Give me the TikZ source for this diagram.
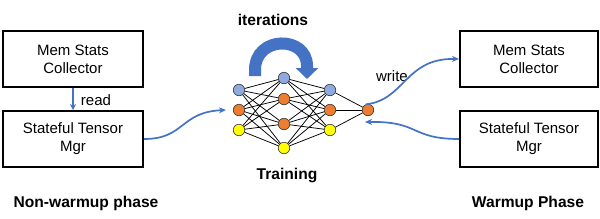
\documentclass[tikz,border=0pt]{standalone}
\usepackage{fontspec}
\setmainfont{Liberation Sans}
\usetikzlibrary{arrows.meta}
\definecolor{cblue}{HTML}{4472C4}
\definecolor{nblue}{HTML}{8FAADC}
\definecolor{norange}{HTML}{ED7D31}
\definecolor{nyellow}{HTML}{FFFF00}
\begin{document}
\begin{tikzpicture}[x=1pt,y=-1pt,
  box/.style={draw, line width=2pt, minimum width=140pt, minimum height=56pt, align=center, inner sep=0pt, font=\fontsize{15}{18}\selectfont},
  lbl/.style={font=\fontsize{15}{18}\selectfont, inner sep=0pt},
  ttl/.style={font=\fontsize{15.6}{18}\selectfont\bfseries, inner sep=0pt},
  neuron/.style={circle, draw=black!80, line width=0.6pt, minimum size=11.5pt, inner sep=0pt},
  conn/.style={draw=cblue, line width=1.7pt, -{Stealth[length=7pt,width=6pt]}},
  nedge/.style={black, line width=0.75pt}]
\useasboundingbox (0,0) rectangle (600,218);

% boxes
\node[box] (m1) at (73,59) {Mem Stats\\Collector};
\node[box] (s1) at (73,139) {Stateful Tensor\\Mgr};
\node[box, minimum width=138pt] (m2) at (529,59) {Mem Stats\\Collector};
\node[box, minimum width=138pt] (s2) at (529,139) {Stateful Tensor\\Mgr};

% labels
\node[ttl] (t1) at (86,203) {Non-warmup phase};
\node[ttl] (t2) at (528,203) {Warmup Phase};
\node[ttl] (t3) at (273,20) {iterations};
\node[ttl] (t4) at (287,175) {Training};
\node[lbl] (rd) at (96,100) {read};
\node[lbl] (wr) at (392,76) {write};

% network
\node[neuron, fill=nblue]   (a1) at (239,90) {};
\node[neuron, fill=norange] (a2) at (239,110) {};
\node[neuron, fill=nyellow] (a3) at (239,130) {};
\node[neuron, fill=nblue]   (b1) at (284,78) {};
\node[neuron, fill=norange] (b2) at (284,99) {};
\node[neuron, fill=norange] (b3) at (284,124) {};
\node[neuron, fill=nyellow] (b4) at (284,148) {};
\node[neuron, fill=nblue]   (c1) at (330,90) {};
\node[neuron, fill=norange] (c2) at (330,110) {};
\node[neuron, fill=nyellow] (c3) at (330,130) {};
\node[neuron, fill=norange] (o)  at (368,110) {};

\foreach \i in {a1,a2,a3}{\foreach \j in {b1,b2,b3,b4}{\draw[nedge] (\i) -- (\j);}}
\foreach \i in {b1,b2,b3,b4}{\foreach \j in {c1,c2,c3}{\draw[nedge] (\i) -- (\j);}}
\foreach \i in {c1,c2,c3}{\draw[nedge] (\i) -- (o);}

% iterations arrow
\draw[draw=cblue, line width=12pt, -{Triangle[width=22pt,length=11pt]}]
  (255,76) -- (255,70) .. controls (255,35.3) and (307,35.3) .. (307,66) -- (307,79);

% connectors
\draw[draw=cblue, line width=1.7pt, -{Stealth[length=6pt,width=6pt]}] (m1) -- (s1);
\draw[conn] (s1.east) .. controls (185,139) and (180,112) .. ([xshift=-7pt]a2.west);
\draw[conn] (o.110) .. controls (405,100) and (405,58) .. (m2.west);
\draw[conn] (s2.west) .. controls (410,139) and (420,121) .. ([xshift=-3pt,yshift=-6pt]o.south);
\end{tikzpicture}
\end{document}
